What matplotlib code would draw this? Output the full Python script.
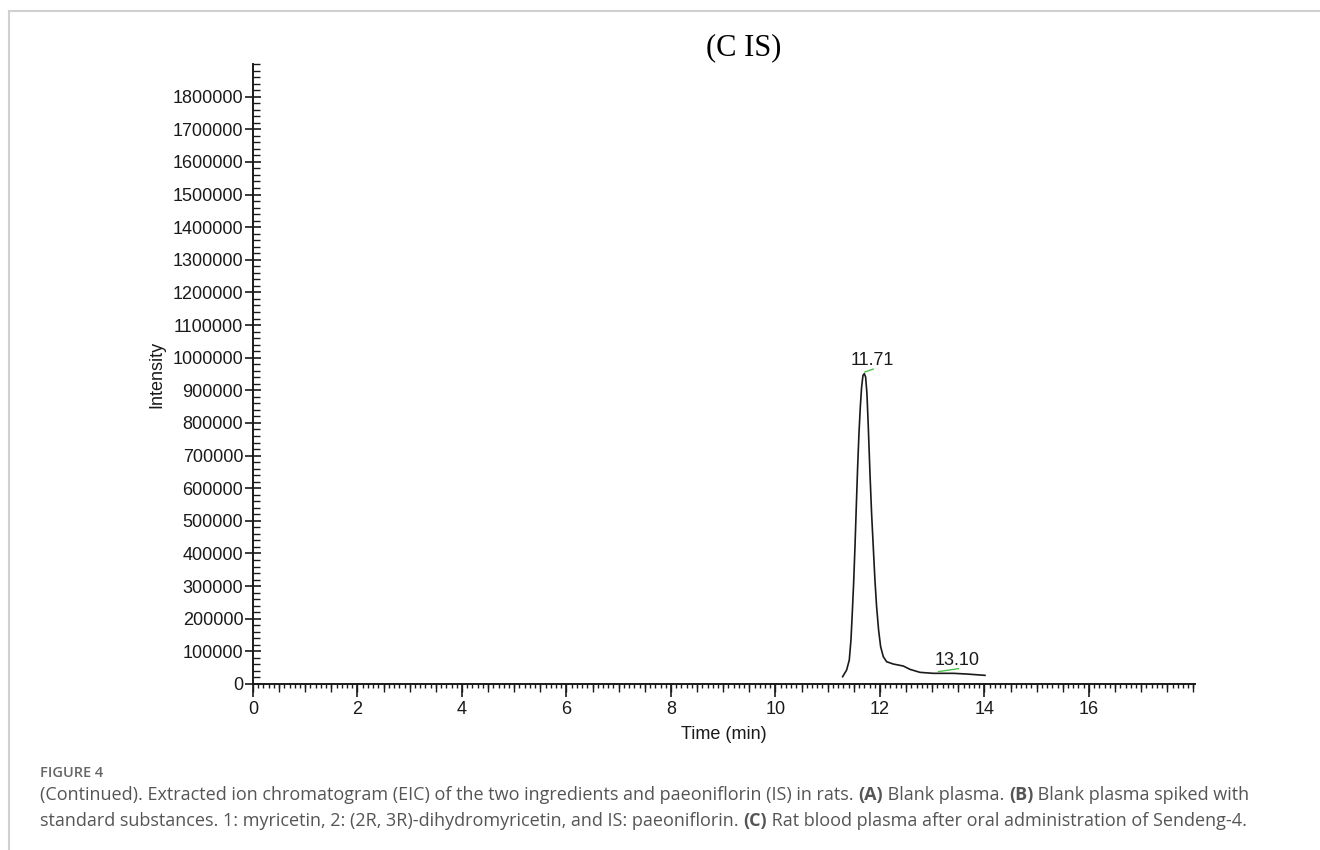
import numpy as np
import matplotlib
matplotlib.use('Agg')
import matplotlib.pyplot as plt
from matplotlib.ticker import MultipleLocator, FixedLocator
from matplotlib.lines import Line2D

# chromatogram trace (time in min, intensity)
time_min = [11.286, 11.362, 11.413, 11.445, 11.470, 11.496, 11.522, 11.547, 11.573, 11.598,
            11.624, 11.649, 11.675, 11.700, 11.726, 11.751, 11.777, 11.809, 11.840, 11.872,
            11.904, 11.936, 11.974, 12.013, 12.064, 12.128, 12.255, 12.447, 12.574, 12.766,
            13.021, 13.404, 13.659, 14.010]
intensity = [22400, 42900, 73500, 134700, 216300, 308100, 420400, 542800, 665200, 767300,
             848900, 910100, 945800, 950900, 940700, 889700, 787700, 644800, 522400, 420400,
             318300, 236700, 165300, 114300, 83700, 68300, 61200, 55100, 44900, 35700,
             32700, 32700, 30600, 26500]

peak_rt = [11.71, 13.12]
peak_h = [951000, 33000]
peak_labels = ['11.71', '13.10']
label_x = [11.85, 13.48]

x_ticks = [0, 2, 4, 6, 8, 10, 12, 14, 16]
y_ticks = list(range(0, 1900000, 100000))

title = '(C IS)'
caption_head = 'FIGURE 4'
caption_1 = [('(Continued). Extracted ion chromatogram (EIC) of the two ingredients and paeoniflorin (IS) in rats. ', 'normal'),
             ('(A)', 'bold'), (' Blank plasma. ', 'normal'), ('(B)', 'bold'), (' Blank plasma spiked with', 'normal')]
caption_2 = [('standard substances. 1: myricetin, 2: (2R, 3R)-dihydromyricetin, and IS: paeoniflorin. ', 'normal'),
             ('(C)', 'bold'), (' Rat blood plasma after oral administration of Sendeng-4.', 'normal')]

W, H = 1320, 850
fig = plt.figure(figsize=(13.2, 8.5), dpi=100)
ax = fig.add_axes([253 / W, 1 - 684 / H, (1195 - 253) / W, (684 - 64) / H])

ink = '#1a1a1a'
ax.plot(time_min, intensity, color=ink, lw=1.2)

ax.set_xlim(0, 18.03)
ax.set_ylim(0, 1900000)
for s in ['top', 'right']:
    ax.spines[s].set_visible(False)
for s in ['left', 'bottom']:
    ax.spines[s].set_linewidth(1.4)
    ax.spines[s].set_color(ink)

fs = 13
tick_font = dict(family='Liberation Sans', size=fs)
ax.xaxis.set_major_locator(FixedLocator(x_ticks))
ax.xaxis.set_minor_locator(MultipleLocator(0.1))
ax.yaxis.set_major_locator(FixedLocator(y_ticks))
ax.yaxis.set_minor_locator(MultipleLocator(20000))
ax.set_xticklabels([str(v) for v in x_ticks], **tick_font, color=ink)
ax.set_yticklabels([str(v) for v in y_ticks], **tick_font, color=ink)
ax.tick_params(axis='x', which='major', direction='out', length=9, width=1.2, color=ink, pad=3)
ax.tick_params(axis='x', which='minor', direction='out', length=3, width=1.0, color=ink)
ax.tick_params(axis='y', which='major', direction='inout', length=12, width=1.2, color=ink, pad=1)
ax.tick_params(axis='y', which='minor', direction='in', length=5, width=1.0, color=ink)

# medium ticks every 0.5 min
sec = ax.secondary_xaxis('bottom')
sec.spines['bottom'].set_visible(False)
sec.xaxis.set_major_locator(MultipleLocator(0.5))
sec.tick_params(axis='x', direction='out', length=5.5, width=1.0, color=ink, labelbottom=False)

ax.set_xlabel('Time (min)', fontfamily='Liberation Sans', fontsize=fs, color=ink, labelpad=6)
ax.set_ylabel('Intensity', fontfamily='Liberation Sans', fontsize=fs, color=ink, labelpad=5)

# peak labels with the small green integration marks
for rt, h, lab, lx in zip(peak_rt, peak_h, peak_labels, label_x):
    ax.text(lx, h + 14000, lab, ha='center', va='bottom', fontfamily='Liberation Sans',
            fontsize=fs, color=ink)
    ax.plot([rt, lx + 0.02], [h + 5000, h + 14000], color='#4cc04c', lw=1.0)

fig.text(744 / W, 1 - 48 / H, title, ha='center', va='center', fontfamily='Liberation Serif',
         fontsize=22, color='black')

# page frame
fig.add_artist(Line2D([9 / W, 1], [1 - 11 / H, 1 - 11 / H], color='#d0d0d0', lw=1.5))
fig.add_artist(Line2D([9 / W, 9 / W], [0, 1 - 11 / H], color='#d0d0d0', lw=1.5))

# caption
cap_color = '#555555'
cap_font = 'Open Sans'
fig.text(40 / W, 1 - 773 / H, caption_head, fontfamily=cap_font, fontsize=10.5, weight='semibold',
         color='#666666', va='center')

renderer = fig.canvas.get_renderer()


def place_line(parts, y_px, size):
    x = 40 / W
    arts = []
    for txt, wt in parts:
        t = fig.text(x, 1 - y_px / H, txt, fontfamily=cap_font, fontsize=size, weight=wt,
                     color=cap_color, va='center')
        bb = t.get_window_extent(renderer)
        x += bb.width / W
        arts.append(t)
    return arts, x * W


arts, end = place_line(caption_1, 795, 12.5)
scale = (1258 - 40) / (end - 40)
for a in arts:
    a.remove()
size = 12.5 * scale
place_line(caption_1, 795, size)
place_line(caption_2, 821, size)

fig.savefig('out.png', dpi=100)
